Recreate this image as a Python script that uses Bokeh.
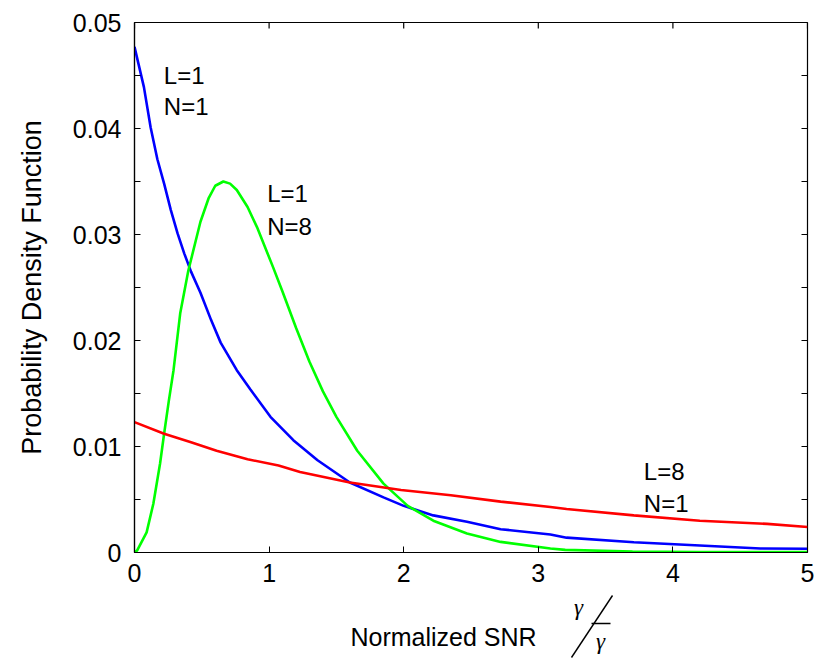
import math
from bokeh.plotting import figure
from bokeh.layouts import column
from bokeh.models import Range1d, LinearAxis, FixedTicker, Label
from bokeh.core.properties import value
from bokeh.embed import file_html
from bokeh.resources import INLINE

# ---- data ----
blue_x = [0.0, 0.07, 0.12, 0.17, 0.22, 0.27, 0.32, 0.37, 0.42, 0.49, 0.57, 0.64, 0.76,
          0.86, 1.01, 1.18, 1.36, 1.6, 1.85, 2.0, 2.22, 2.47, 2.72, 3.09, 3.21, 3.71,
          4.2, 4.65, 5.0]
blue_y = [0.0477, 0.0439, 0.0401, 0.0371, 0.0348, 0.0323, 0.0301, 0.0282, 0.0265, 0.0245,
          0.0219, 0.0198, 0.0172, 0.0154, 0.0128, 0.0106, 0.0087, 0.0066, 0.0052, 0.0044,
          0.0035, 0.0029, 0.0022, 0.0017, 0.0014, 0.00097, 0.00066, 0.00038, 0.00036]

green_x = [0.0, 0.02, 0.09, 0.14, 0.19, 0.22, 0.255, 0.29, 0.34, 0.40, 0.49, 0.55, 0.60,
           0.66, 0.71, 0.76, 0.84, 0.91, 1.03, 1.1, 1.2, 1.3, 1.4, 1.5, 1.655, 1.85,
           2.03, 2.22, 2.47, 2.72, 3.09, 3.2, 3.7, 4.2, 5.0]
green_y = [0.0, 0.0002, 0.0019, 0.0046, 0.0084, 0.0112, 0.0143, 0.0172, 0.0226, 0.0266,
           0.0312, 0.0334, 0.0346, 0.0350, 0.0348, 0.0342, 0.0326, 0.0307, 0.0269, 0.0246,
           0.0212, 0.0180, 0.0152, 0.0128, 0.0096, 0.0065, 0.0044, 0.0030, 0.0018,
           0.0010, 0.00038, 0.00025, 0.0001, 0.00005, 0.00005]

red_x = [0.0, 0.22, 0.42, 0.61, 0.84, 1.07, 1.23, 1.6, 1.98, 2.35, 2.72, 3.09, 3.21,
         3.71, 4.2, 4.7, 5.0]
red_y = [0.0123, 0.0112, 0.0104, 0.0096, 0.0088, 0.0082, 0.0076, 0.0066, 0.0059, 0.0054,
         0.0048, 0.0043, 0.0041, 0.0035, 0.0030, 0.0027, 0.0024]

x_ticks = [0, 1, 2, 3, 4, 5]
x_tick_labels = ["0", "1", "2", "3", "4", "5"]
y_ticks = [0.0, 0.01, 0.02, 0.03, 0.04, 0.05]
y_tick_labels = ["0", "0.01", "0.02", "0.03", "0.04", "0.05"]
y_minor_ticks = [0.005, 0.015, 0.025, 0.035, 0.045]

curve_labels = [("L=1", "N=1"), ("L=1", "N=8"), ("L=8", "N=1")]
curve_label_x = [0.218, 0.986, 3.784]
curve_label_y1 = [0.0450, 0.0339, 0.00767]
curve_label_y2 = [0.0421, 0.0308, 0.00465]

x_label = "Normalized SNR"
y_label = "Probability Density Function"

SANS = "Liberation Sans"
SERIF = "Liberation Serif"
X0, X1, Y0, Y1 = 0, 5, 0, 0.05
LEFT, RIGHT = 134, 7

p = figure(width=814, height=594, output_backend="svg", toolbar_location=None,
           x_range=Range1d(X0, X1), y_range=Range1d(Y0, Y1),
           min_border_left=LEFT, min_border_right=RIGHT, min_border_top=22,
           min_border_bottom=42, x_axis_location=None, y_axis_location=None)
p.grid.visible = False
p.outline_line_color = "black"
p.outline_line_width = 1.2
p.background_fill_color = "white"
p.border_fill_color = "white"

xt = FixedTicker(ticks=x_ticks, minor_ticks=[])
yt = FixedTicker(ticks=y_ticks, minor_ticks=y_minor_ticks)


def style(ax):
    ax.major_tick_in = 6
    ax.major_tick_out = 0
    ax.minor_tick_in = 6
    ax.minor_tick_out = 0
    ax.axis_line_color = "black"
    ax.axis_line_width = 1.2
    ax.major_tick_line_color = "black"
    ax.minor_tick_line_color = "black"
    ax.major_label_text_font = SANS
    ax.major_label_text_font_size = "25px"
    ax.major_label_text_color = "black"


xb = LinearAxis(ticker=xt, major_label_overrides=dict(zip(x_ticks, x_tick_labels)))
style(xb)
xb.major_label_standoff = 11
p.add_layout(xb, "below")

yl = LinearAxis(ticker=yt, major_label_overrides=dict(zip(y_ticks, y_tick_labels)),
                axis_label=y_label)
style(yl)
yl.major_label_standoff = 13
yl.axis_label_text_font = SANS
yl.axis_label_text_font_size = "27px"
yl.axis_label_text_font_style = "normal"
yl.axis_label_text_color = "black"
yl.axis_label_standoff = 23
p.add_layout(yl, "left")

# tick marks on the top and right edges of the box (pointing inward)
all_y_ticks = sorted(y_ticks + y_minor_ticks)
p.ray(x=x_ticks, y=[Y1] * len(x_ticks), length=6, length_units="screen",
      angle=-90, angle_units="deg", line_color="black", line_width=1.2)
p.ray(x=[X1] * len(all_y_ticks), y=all_y_ticks, length=6, length_units="screen",
      angle=180, angle_units="deg", line_color="black", line_width=1.2)

p.line(blue_x, blue_y, line_color="#0000FF", line_width=2.6)
p.line(green_x, green_y, line_color="#00FF00", line_width=2.6)
p.line(red_x, red_y, line_color="#FF0000", line_width=2.6)

for (t1, t2), lx, ly1, ly2 in zip(curve_labels, curve_label_x, curve_label_y1, curve_label_y2):
    for t, ly in ((t1, ly1), (t2, ly2)):
        p.add_layout(Label(x=lx, y=ly, text=t, text_font=SANS, text_font_size="24px",
                           text_color="black", text_baseline="alphabetic", text_align="left"))

# ---- x-axis label strip (pixel space) with the gamma / gamma-bar fraction ----
# frame is aligned with the main plot's frame, so its x range spans page pixels LEFT..814-RIGHT
q = figure(width=814, height=64, output_backend="svg", toolbar_location=None,
           x_range=Range1d(LEFT, 814 - RIGHT), y_range=Range1d(0, 64),
           min_border_left=LEFT, min_border_right=RIGHT, min_border_top=0,
           min_border_bottom=0, x_axis_location=None, y_axis_location=None)
q.grid.visible = False
q.outline_line_color = None
q.background_fill_color = "white"
q.border_fill_color = "white"

q.text(x=[350], y=[22], text=[x_label], text_font=value(SANS), text_font_size="25px",
       text_color="black", text_baseline="alphabetic", text_align="left")
q.text(x=[578, 600], y=[51, 17], text=["γ", "γ"], text_font=value(SERIF),
       text_font_style="italic", text_font_size="23px", text_color="black",
       text_baseline="alphabetic", text_align="center")
q.segment(x0=[571, 591], y0=[1, 35], x1=[612, 610], y1=[63, 35],
          line_color="black", line_width=1.4)

layout = column(p, q, spacing=0)
open("out.html", "w").write(file_html(layout, INLINE))
